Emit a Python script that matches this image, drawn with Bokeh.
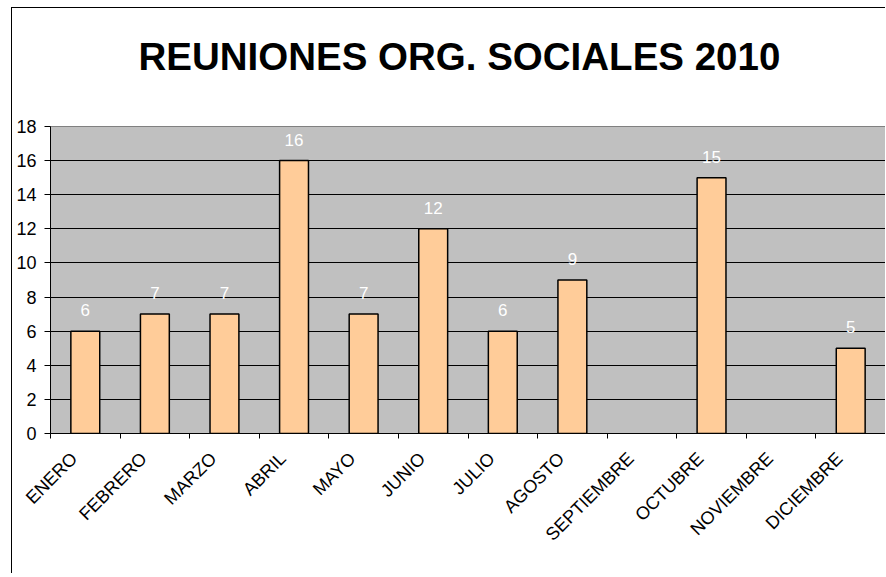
import math
from bokeh.plotting import figure
from bokeh.models import (ColumnDataSource, FixedTicker, LabelSet, Range1d, Title)
from bokeh.core.properties import value
from bokeh.embed import file_html
from bokeh.resources import INLINE

months = ["ENERO", "FEBRERO", "MARZO", "ABRIL", "MAYO", "JUNIO", "JULIO",
          "AGOSTO", "SEPTIEMBRE", "OCTUBRE", "NOVIEMBRE", "DICIEMBRE"]
meetings = [6, 7, 7, 16, 7, 12, 6, 9, None, 15, None, 5]
y_ticks = [0, 2, 4, 6, 8, 10, 12, 14, 16, 18]
title_text = "REUNIONES ORG. SOCIALES 2010"

FONT = "Liberation Sans"

xs = [i + 0.5 for i in range(len(months))]
# rotated category labels are anchored slightly left of the category centre
label_pos = [x - 0.16 for x in xs]
bar_x = [x for x, v in zip(xs, meetings) if v is not None]
bar_v = [v for v in meetings if v is not None]
src = ColumnDataSource(dict(x=bar_x, top=bar_v, label=[str(v) for v in bar_v]))

p = figure(width=874, height=566, output_backend="svg", toolbar_location=None,
           x_range=Range1d(0, len(months)), y_range=Range1d(0, 18),
           min_border_left=38, min_border_right=1, min_border_top=118,
           min_border_bottom=141, title=None)
p.styles = {"border-left": "1px solid black", "border-top": "1px solid black",
            "margin-left": "11px", "margin-top": "7px"}

p.background_fill_color = "#C0C0C0"
p.border_fill_color = "white"
p.outline_line_color = "#808080"
p.outline_line_width = 1

p.vbar(x="x", top="top", width=0.415, bottom=0, source=src,
       fill_color="#FFCC99", line_color="black", line_width=1.5)

labels = LabelSet(x="x", y="top", text="label", source=src, text_align="center",
                  text_baseline="alphabetic", y_offset=15, text_color="white",
                  text_font_size="17px", text_font=value(FONT))
p.add_layout(labels)

# x axis
p.xaxis.ticker = FixedTicker(ticks=label_pos, minor_ticks=list(range(len(months) + 1)))
p.xaxis.major_label_overrides = {x: m for x, m in zip(label_pos, months)}
p.xaxis.major_label_orientation = math.pi / 4
p.xaxis.major_tick_out = 0
p.xaxis.major_tick_in = 0
p.xaxis.minor_tick_out = 5
p.xaxis.minor_tick_in = 0
p.xaxis.minor_tick_line_color = "black"
p.xaxis.axis_line_color = "black"
p.xaxis.major_label_text_font = FONT
p.xaxis.major_label_text_font_size = "18px"
p.xaxis.major_label_text_color = "black"
p.xaxis.major_label_standoff = 17

# y axis
p.yaxis.ticker = FixedTicker(ticks=y_ticks)
p.yaxis.major_tick_out = 6
p.yaxis.major_tick_in = 0
p.yaxis.minor_tick_line_color = None
p.yaxis.axis_line_color = "black"
p.yaxis.major_tick_line_color = "black"
p.yaxis.major_label_text_font = FONT
p.yaxis.major_label_text_font_size = "18px"
p.yaxis.major_label_text_color = "black"
p.yaxis.major_label_standoff = 8

p.xgrid.grid_line_color = None
p.ygrid.ticker = FixedTicker(ticks=[t for t in y_ticks if 0 < t < 18])
p.ygrid.grid_line_color = "black"
p.ygrid.grid_line_width = 1

spacer = Title(text=" ", text_font_size="29px", text_font=FONT)
p.add_layout(spacer, "above")
t = Title(text=title_text, text_font=FONT, text_font_size="38.5px",
          text_font_style="bold", align="left", offset=88, text_color="black")
p.add_layout(t, "above")

open("out.html", "w").write(file_html(p, INLINE))
